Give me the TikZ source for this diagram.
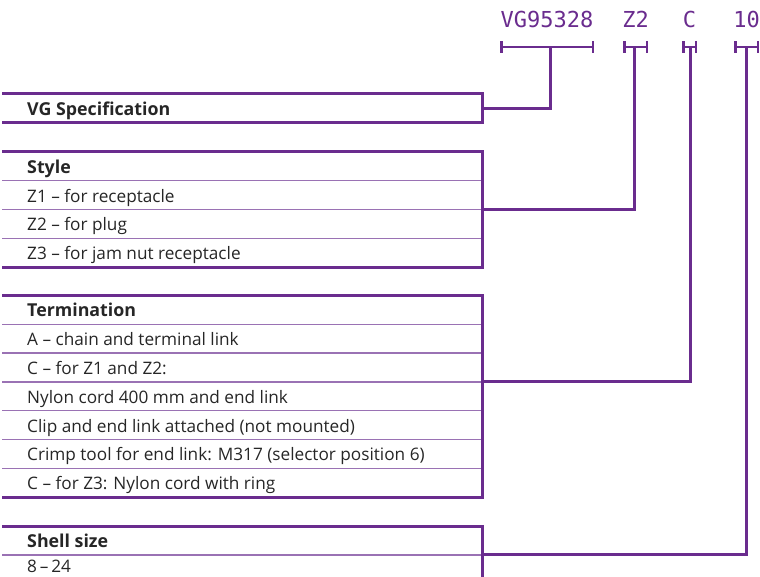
\documentclass[tikz,border=0pt]{standalone}
\usepackage{fontspec}
\setmainfont{Open Sans}
\newfontfamily\codefont{DejaVu Sans Mono}
\usetikzlibrary{arrows.meta}
\definecolor{vgpurple}{HTML}{6A2C8E}
\definecolor{vglight}{HTML}{9A72B4}
\tikzset{
  frame/.style={draw=vgpurple,line width=3pt},
  rowline/.style={draw=vglight,line width=1.4pt},
  link/.style={draw=vgpurple,line width=3pt},
  bar/.style={draw=vgpurple,line width=2.5pt,{Bar[width=12pt]}-{Bar[width=12pt]}},
  entry/.style={anchor=base west,inner sep=0pt,text=black!85,font=\fontsize{17.2}{19}\selectfont},
  head/.style={entry,font=\fontsize{17.8}{19}\selectfont\bfseries},
  code/.style={anchor=base,inner sep=0pt,text=vgpurple,font=\codefont\fontsize{22}{24}\selectfont}
}
\begin{document}
\begin{tikzpicture}[x=1pt,y=-1pt]
  \useasboundingbox (0,0) rectangle (760,577);
  % order code
  \node[code] (vgcode) at (547,28) {VG95328};
  \node[code] (stycode) at (635.5,28) {Z2};
  \node[code] (termcode) at (689.5,28) {C};
  \node[code] (sizecode) at (746.5,28) {10};
  \draw[bar] (500,47) -- (594,47);
  \draw[bar] (623,47) -- (648,47);
  \draw[bar] (682,47) -- (697,47);
  \draw[bar] (734,47) -- (759,47);
  \coordinate (vgtap) at (550,47);
  \coordinate (stytap) at (634,47);
  \coordinate (termtap) at (690,47);
  \coordinate (sizetap) at (746,47);

  % VG specification
  \draw[frame] (2,94) -| (482,123) -- (2,123);
  \node[head] (vg) at (27,115.5) {VG Specification};
  \coordinate (vgport) at (482,108.5);

  % style
  \draw[frame] (2,152) -| (482,267.2) -- (2,267.2);
  \foreach \y in {180.8,209.6,238.4}
    \draw[rowline] (2,\y) -- (480.5,\y);
  \node[head] (sty) at (27,173.3) {Style};
  \foreach \txt [count=\i] in {Z1 – for receptacle,Z2 – for plug,Z3 – for jam nut receptacle}
    \node[entry] (sty\i) at (27,{173.3+28.8*\i}) {\txt};
  \coordinate (styport) at (482,209.6);

  % termination
  \draw[frame] (2,295.5) -| (482,497.1) -- (2,497.1);
  \foreach \y in {324.3,353.1,381.9,410.7,439.5,468.3}
    \draw[rowline] (2,\y) -- (480.5,\y);
  \node[head] (term) at (27,316.8) {Termination};
  \foreach \txt [count=\i] in {A – chain and terminal link,C – for Z1 and Z2:,Nylon cord 400 mm and end link,Clip and end link attached (not mounted),Crimp tool for end link: M317 (selector position 6),C – for Z3: Nylon cord with ring}
    \node[entry] (term\i) at (27,{316.8+28.8*\i}) {\txt};
  \coordinate (termport) at (482,381.9);

  % shell size
  \draw[frame] (2,526) -| (482,578);
  \draw[rowline] (2,554.8) -- (480.5,554.8);
  \node[head] (size) at (27,547.3) {Shell size};
  \node[entry] (size1) at (27,572) {8\,–\,24};
  \coordinate (sizeport) at (482,554.8);

  % links
  \draw[link] (vgport) -| (vgtap);
  \draw[link] (styport) -| (stytap);
  \draw[link] (termport) -| (termtap);
  \draw[link] (sizeport) -| (sizetap);
\end{tikzpicture}
\end{document}
